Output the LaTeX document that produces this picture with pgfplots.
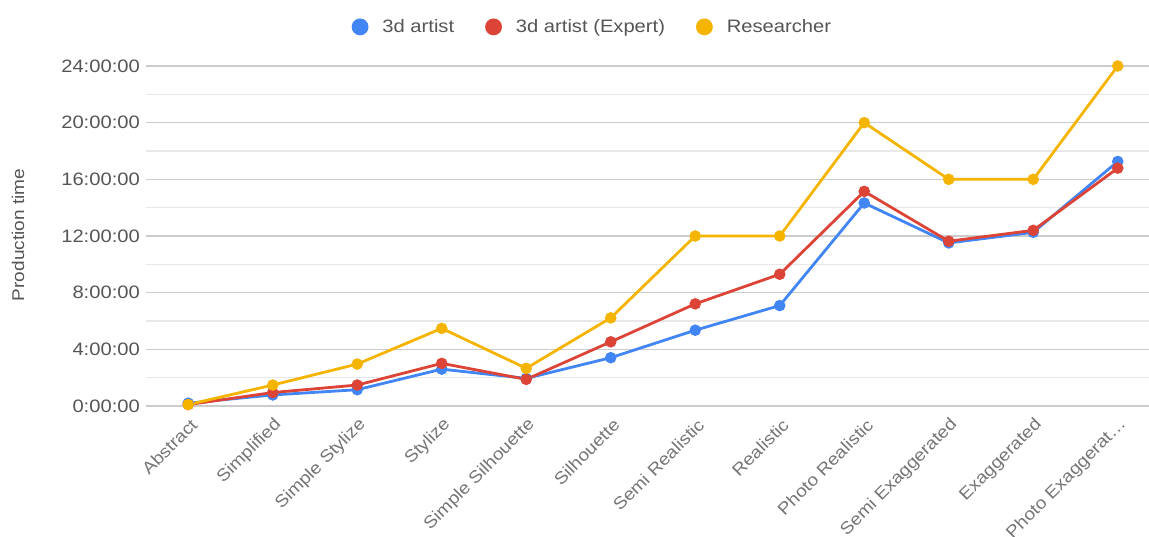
\documentclass[border=0pt]{standalone}
\usepackage{pgfplots}
\pgfplotsset{compat=1.18}
\usepackage{fontspec}
\setmainfont{Liberation Sans}[FakeStretch=1.12]
\definecolor{gblue}{HTML}{4285F4}
\definecolor{gred}{HTML}{DB4437}
\definecolor{gyellow}{HTML}{F4B400}
\definecolor{tickgray}{HTML}{555555}
\definecolor{xgray}{HTML}{757575}
\begin{document}
\begin{tikzpicture}[x=1pt,y=1pt]
\path[use as bounding box] (0,0) rectangle (1149,536);
\begin{axis}[
  at={(146pt,130pt)}, anchor=south west,
  scale only axis, width=1003pt, height=340pt,
  xmin=-0.5, xmax=11.37, ymin=0, ymax=24,
  clip=false,
  axis line style={draw=none},
  major tick style={draw=none}, minor tick style={draw=none},
  xtick={0,1,2,3,4,5,6,7,8,9,10,11},
  xticklabels={Abstract,Simplified,Simple Stylize,Stylize,Simple Silhouette,Silhouette,Semi Realistic,Realistic,Photo Realistic,Semi Exaggerated,Exaggerated,{Photo Exaggerat\ldots}},
  xticklabel style={xshift=6pt, yshift=-16pt, rotate=45, anchor=east, inner sep=0pt, font=\fontsize{17}{20}\selectfont, text=xgray},
  ytick={0,4,8,12,16,20,24},
  yticklabels={0:00:00,4:00:00,8:00:00,12:00:00,16:00:00,20:00:00,24:00:00},
  minor ytick={2,6,10,14,18,22},
  yticklabel style={font=\fontsize{18}{22}\selectfont, text=tickgray, anchor=east, inner sep=0pt, xshift=-6pt},
  ymajorgrids, yminorgrids,
  major grid style={draw=black!20, line width=1.3pt},
  minor grid style={draw=black!9, line width=1.3pt},
  ylabel={Production time},
  ylabel style={font=\fontsize{17}{20}\selectfont, text=tickgray, at={(axis description cs:-0.1276,0.503)}, anchor=center},
  legend style={at={(axis description cs:0.445,1.115)}, anchor=center, draw=none, fill=none,
    legend columns=3, font=\fontsize{18}{22}\selectfont, text=tickgray,
    /tikz/every even column/.append style={column sep=29pt},
    nodes={inner sep=2pt}},
  legend image code/.code={\fill[#1] (0pt,0pt) circle (7pt); \path (-7pt,0pt) (19pt,0pt);},
  every axis plot/.append style={line width=2.8pt, mark=*, mark size=4.3pt},
]
\addplot[color=gblue, mark options={fill=gblue, draw=gblue}] coordinates {
(0,0.2) (1,0.78) (2,1.15) (3,2.6) (4,1.95) (5,3.41) (6,5.35) (7,7.09) (8,14.33) (9,11.51) (10,12.26) (11,17.26)};
\addlegendentry{3d artist}
\addplot[color=gred, mark options={fill=gred, draw=gred}] coordinates {
(0,0.1) (1,0.95) (2,1.48) (3,3.01) (4,1.88) (5,4.53) (6,7.21) (7,9.30) (8,15.15) (9,11.63) (10,12.40) (11,16.79)};
\addlegendentry{3d artist (Expert)}
\addplot[color=gyellow, mark options={fill=gyellow, draw=gyellow}] coordinates {
(0,0.1) (1,1.48) (2,2.96) (3,5.48) (4,2.66) (5,6.22) (6,12.0) (7,12.0) (8,20.0) (9,16.0) (10,16.0) (11,24.0)};
\addlegendentry{Researcher}
\end{axis}
\end{tikzpicture}
\end{document}
